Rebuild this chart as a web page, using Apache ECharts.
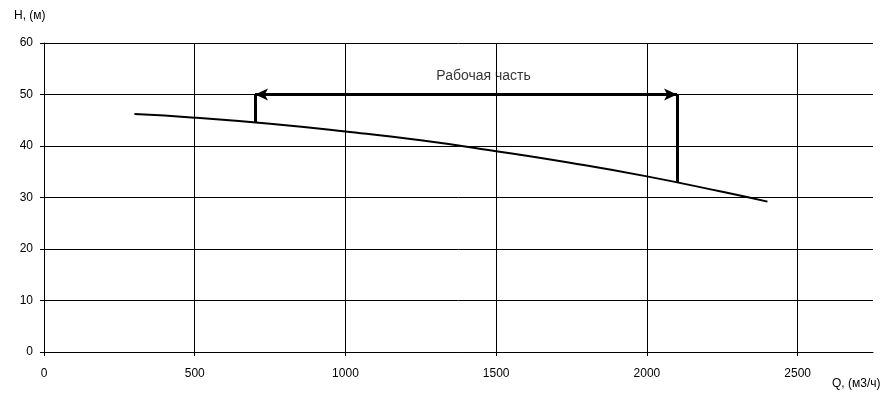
<!DOCTYPE html>
<html>
<head>
<meta charset="utf-8">
<script src="https://cdn.jsdelivr.net/npm/echarts@6/dist/echarts.min.js"></script>
<style>html,body{margin:0;padding:0;background:#fff}#c{width:891px;height:396px}</style>
</head>
<body>
<div id="c"></div>
<script>
// Data
const qValues = [300, 500, 750, 1000, 1250, 1500, 1750, 2000, 2250, 2400];
const hValues = [46.2, 45.5, 44.3, 42.8, 41.1, 39.0, 36.7, 34.1, 31.1, 29.2];
const workStart = 700, workEnd = 2100, workH = 50;
const workStartH = 44.6, workEndH = 33.0;
const workLabel = 'Рабочая часть';
const workLabelPos = [1458, 53.5];
const xLabelTicks = [0, 500, 1000, 1500, 2000, 2500];
const xAxisName = 'Q, (м3/ч)';
const yAxisName = 'H, (м)';

const font = '"Liberation Sans", Arial, sans-serif';

const chart = echarts.init(document.getElementById('c'), null, {renderer: 'canvas'});
chart.setOption({
  animation: false,
  backgroundColor: '#fff',
  grid: {left: 44, right: 18, top: 43, bottom: 44, show: false},
  xAxis: {
    type: 'value', min: 0, max: 2750, interval: 250,
    axisLine: {show: true, lineStyle: {color: '#000', width: 1}},
    axisTick: {show: true, length: 4, customValues: xLabelTicks, lineStyle: {color: '#000'}},
    axisLabel: {customValues: xLabelTicks, formatter: v => String(v), color: '#000', fontFamily: font, fontSize: 12, margin: 16},
    splitLine: {show: true, lineStyle: {color: '#000', width: 1}}
  },
  yAxis: {
    type: 'value', min: 0, max: 60, interval: 10,
    axisLine: {show: true, lineStyle: {color: '#000', width: 1}},
    axisTick: {show: true, length: 4, lineStyle: {color: '#000'}},
    axisLabel: {formatter: v => String(v), color: '#000', fontFamily: font, fontSize: 12, margin: 11},
    splitLine: {show: true, lineStyle: {color: '#000', width: 1}}
  },
  graphic: [
    {type: 'text', left: 14, top: 10, style: {text: yAxisName, fill: '#000', font: '12px ' + font}},
    {type: 'text', left: 832, top: 378, style: {text: xAxisName, fill: '#000', font: '12px ' + font}}
  ],
  series: [
    {
      type: 'line',
      data: qValues.map((q, i) => [q, hValues[i]]),
      smooth: true,
      showSymbol: false,
      symbol: 'none',
      lineStyle: {color: '#000', width: 2},
      z: 5
    },
    {
      type: 'line',
      data: [],
      markLine: {
        silent: true,
        animation: false,
        label: {show: false},
        data: [
          [{coord: [workStart, workH], symbol: 'arrow', symbolSize: [9, 13]},
           {coord: [workEnd, workH], symbol: 'arrow', symbolSize: [9, 13]}],
          [{coord: [workStart, workH], symbol: 'none'}, {coord: [workStart, workStartH], symbol: 'none'}],
          [{coord: [workEnd, workH], symbol: 'none'}, {coord: [workEnd, workEndH], symbol: 'none'}]
        ],
        lineStyle: {color: '#000', width: 3, type: 'solid'}
      },
      z: 6
    },
    {
      type: 'scatter',
      data: [workLabelPos],
      symbolSize: 0,
      label: {show: true, position: 'inside', formatter: workLabel, color: '#000', fontFamily: font, fontSize: 14},
      z: 7
    }
  ]
});
</script>
</body>
</html>
